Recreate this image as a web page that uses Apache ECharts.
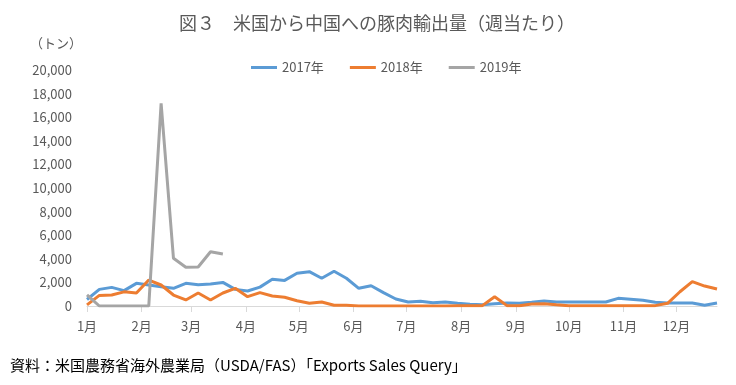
<!DOCTYPE html>
<html>
<head>
<meta charset="utf-8">
<script src="https://cdn.jsdelivr.net/npm/echarts@6/dist/echarts.min.js"></script>
<style>
html,body{margin:0;padding:0;background:#fff;}
#c{width:736px;height:385px;}
</style>
</head>
<body>
<div id="c"></div>
<script>
// Weekly values (tons), week index 0 = first week of January
const seriesNames = ['2017年', '2018年', '2019年'];
const y2017 = [550, 1410, 1580, 1300, 1920, 1780, 1640, 1500, 1920, 1810, 1860, 2000, 1410, 1270, 1600, 2260, 2170, 2770, 2910, 2350, 2940, 2350, 1500, 1720, 1130, 590, 340, 400, 280, 340, 230, 140, 110, 190, 250, 230, 310, 420, 340, 340, 340, 340, 340, 650, 570, 480, 310, 250, 250, 250, 60, 250];
const y2018 = [100, 900, 930, 1200, 1100, 2200, 1780, 930, 510, 1100, 510, 1100, 1500, 790, 1130, 850, 740, 450, 230, 340, 60, 60, 0, 0, 0, 0, 0, 0, 0, 0, 20, 30, 30, 790, 30, 30, 170, 200, 110, 30, 30, 30, 30, 30, 30, 30, 30, 230, 1210, 2060, 1690, 1440];
const y2019 = [950, 0, 0, 0, 0, 0, 17170, 4040, 3280, 3300, 4600, 4400];
const yTicks = [0, 2000, 4000, 6000, 8000, 10000, 12000, 14000, 16000, 18000, 20000];

const DAY = 86400000;
const start = Date.UTC(2017, 0, 1);
function weekly(arr) {
  return arr.map((v, i) => [start + i * 7 * DAY, v]);
}

const chart = echarts.init(document.getElementById('c'), null, {renderer: 'canvas'});
const txt = '#595959';
const ff = '"Noto Sans CJK JP", "Noto Sans", sans-serif';
chart.setOption({
  useUTC: true,
  animation: false,
  backgroundColor: '#ffffff',
  color: ['#5B9BD5', '#ED7D31', '#A5A5A5'],
  title: {
    text: '図３　米国から中国への豚肉輸出量（週当たり）',
    left: 372, top: 9, textAlign: 'center',
    textStyle: {color: '#595959', fontSize: 18, fontWeight: 'normal', fontFamily: ff}
  },
  legend: {
    data: seriesNames,
    top: 56, left: 246,
    itemWidth: 26, itemHeight: 3, itemGap: 26,
    icon: 'rect',
    textStyle: {color: txt, fontSize: 13, fontFamily: ff}
  },
  graphic: [
    {type: 'text', left: 30, top: 37, style: {text: '（トン）', fill: txt, font: '13px ' + ff}},
    {type: 'text', left: 10, top: 358, style: {text: '資料：米国農務省海外農業局（USDA/FAS）「Exports Sales Query」', fill: '#000', font: '15px ' + ff}}
  ],
  grid: {left: 87, right: 19, top: 70, bottom: 79, containLabel: false},
  xAxis: {
    type: 'time',
    min: start,
    max: start + 51 * 7 * DAY,
    minInterval: 28 * DAY,
    maxInterval: 31 * DAY,
    axisLine: {lineStyle: {color: '#D9D9D9', width: 1}},
    axisTick: {show: true, length: 6, lineStyle: {color: '#D9D9D9'}},
    splitLine: {show: false},
    axisLabel: {
      color: txt, fontSize: 13, fontFamily: ff, margin: 14,
      formatter: function (v) { return (new Date(v).getUTCMonth() + 1) + '月'; }
    }
  },
  yAxis: {
    type: 'value',
    min: yTicks[0], max: yTicks[yTicks.length - 1], interval: 2000,
    axisLine: {show: false},
    axisTick: {show: false},
    splitLine: {show: false},
    axisLabel: {color: txt, fontSize: 13, fontFamily: ff, margin: 15}
  },
  series: [
    {name: seriesNames[0], type: 'line', data: weekly(y2017), showSymbol: false, symbol: 'none', lineStyle: {width: 3}, z: 3},
    {name: seriesNames[1], type: 'line', data: weekly(y2018), showSymbol: false, symbol: 'none', lineStyle: {width: 3}, z: 4},
    {name: seriesNames[2], type: 'line', data: weekly(y2019), showSymbol: false, symbol: 'none', lineStyle: {width: 3}, z: 5}
  ]
});
</script>
</body>
</html>
